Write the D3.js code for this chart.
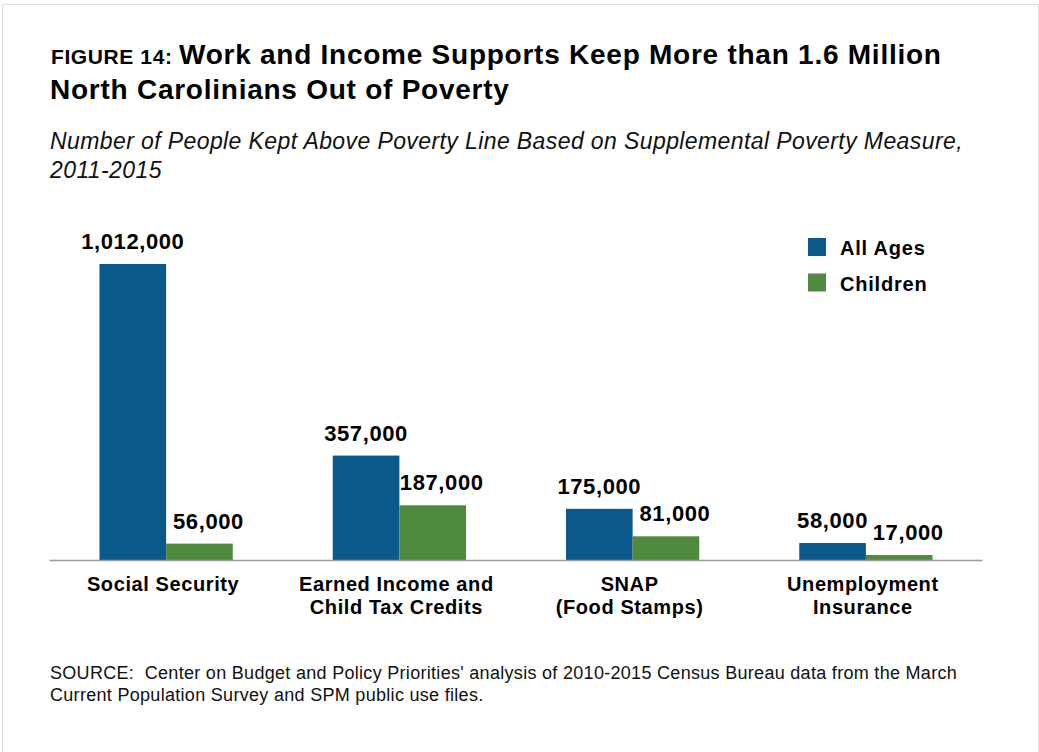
<!DOCTYPE html>
<html>
<head>
<meta charset="utf-8">
<script src="https://cdn.jsdelivr.net/npm/d3@7"></script>
<style>
  html, body { margin: 0; padding: 0; background: #ffffff; }
  svg { display: block; font-family: "Liberation Sans", Arial, Helvetica, sans-serif; }
</style>
</head>
<body>
<svg id="chart" width="1039" height="752"></svg>
<script>
// ---- Data ----
const categories = [
  ["Social Security"],
  ["Earned Income and", "Child Tax Credits"],
  ["SNAP", "(Food Stamps)"],
  ["Unemployment", "Insurance"]
];
const seriesNames = ["All Ages", "Children"];
const allAges = [1012000, 357000, 175000, 58000];
const children = [56000, 187000, 81000, 17000];
const seriesColors = ["#0c598c", "#508a3f"];

const titlePrefix = "FIGURE 14: ";
const titleLines = ["Work and Income Supports Keep More than 1.6 Million", "North Carolinians Out of Poverty"];
const subtitleLines = ["Number of People Kept Above Poverty Line Based on Supplemental Poverty Measure,", "2011-2015"];
const sourceLines = ["SOURCE:  Center on Budget and Policy Priorities' analysis of 2010-2015 Census Bureau data from the March", "Current Population Survey and SPM public use files."];

// ---- Layout ----
const svg = d3.select("#chart");
const baseY = 560, topY = 264;
const catKeys = categories.map((c, i) => i);
const series = [allAges, children];

// border
svg.append("rect").attr("x", 2.5).attr("y", 4.5).attr("width", 1036).attr("height", 760)
  .attr("fill", "#fff").attr("stroke", "#dedede").attr("stroke-width", 1);

// title
const title = svg.append("text").attr("x", 51).attr("y", 64).attr("fill", "#000").attr("font-weight", "bold");
title.append("tspan").attr("font-size", 21).attr("letter-spacing", 0.6).text(titlePrefix);
title.append("tspan").attr("font-size", 28).attr("letter-spacing", 0.75).text(titleLines[0]);
svg.append("text").attr("x", 50).attr("y", 99).attr("font-size", 28).attr("letter-spacing", 0.75)
  .attr("font-weight", "bold").text(titleLines[1]);

// subtitle
svg.selectAll("text.sub").data(subtitleLines).join("text").attr("class", "sub")
  .attr("x", 50).attr("y", (d, i) => 149 + i * 29)
  .attr("font-size", 23).attr("font-style", "italic").attr("letter-spacing", 0.4).attr("fill", "#111")
  .text(d => d);

// scales
const x0 = d3.scaleBand().domain(catKeys).range([49.5, 982.5]).paddingInner(3 / 7).paddingOuter(1.5 / 7);
const x1 = d3.scaleBand().domain([0, 1]).range([0, x0.bandwidth()]);
const y = d3.scaleLinear().domain([0, d3.max(allAges)]).range([baseY, topY]);
const fmt = d3.format(",");

// bars
const groups = svg.selectAll("g.grp").data(catKeys).join("g").attr("class", "grp")
  .attr("transform", d => `translate(${x0(d)},0)`);

groups.selectAll("rect").data(i => series.map((s, j) => ({ j, v: s[i] }))).join("rect")
  .attr("x", d => x1(d.j)).attr("width", x1.bandwidth())
  .attr("y", d => y(d.v)).attr("height", d => y(0) - y(d.v))
  .attr("fill", d => seriesColors[d.j]);

groups.selectAll("text.val").data(i => series.map((s, j) => ({ j, v: s[i] }))).join("text").attr("class", "val")
  .attr("x", d => x1(d.j) + x1.bandwidth() / 2 + (d.j === 1 ? 9 : 0))
  .attr("y", d => y(d.v) - 15)
  .attr("text-anchor", "middle").attr("font-size", 22).attr("font-weight", "bold").attr("letter-spacing", 0.6)
  .attr("fill", "#000")
  .text(d => fmt(d.v));

// axis baseline
svg.append("line").attr("x1", x0.range()[0]).attr("x2", x0.range()[1]).attr("y1", baseY + 0.5).attr("y2", baseY + 0.5)
  .attr("stroke", "#9a9a9a").attr("stroke-width", 1.5);

// category labels
svg.selectAll("text.cat").data(catKeys).join("text").attr("class", "cat")
  .attr("x", d => x0(d) + x0.bandwidth() / 2).attr("y", 591)
  .attr("text-anchor", "middle").attr("font-size", 20).attr("font-weight", "bold").attr("letter-spacing", 0.6)
  .each(function (d) {
    d3.select(this).selectAll("tspan").data(categories[d]).join("tspan")
      .attr("x", x0(d) + x0.bandwidth() / 2 - 3).attr("dy", (t, k) => k === 0 ? 0 : 23).text(t => t);
  });

// legend
const leg = svg.selectAll("g.leg").data(seriesNames).join("g").attr("class", "leg")
  .attr("transform", (d, i) => `translate(808,${238 + i * 35.5})`);
leg.append("rect").attr("width", 18).attr("height", 18).attr("fill", (d, i) => seriesColors[i]);
leg.append("text").attr("x", 32).attr("y", 17).attr("font-size", 20).attr("font-weight", "bold")
  .attr("letter-spacing", 0.8).text(d => d);

// source
svg.selectAll("text.src").data(sourceLines).join("text").attr("class", "src")
  .attr("x", 50).attr("y", (d, i) => 679 + i * 22)
  .attr("font-size", 18).attr("fill", "#111").attr("letter-spacing", 0.3)
  .attr("xml:space", "preserve").style("white-space", "pre")
  .text(d => d);
</script>
</body>
</html>
